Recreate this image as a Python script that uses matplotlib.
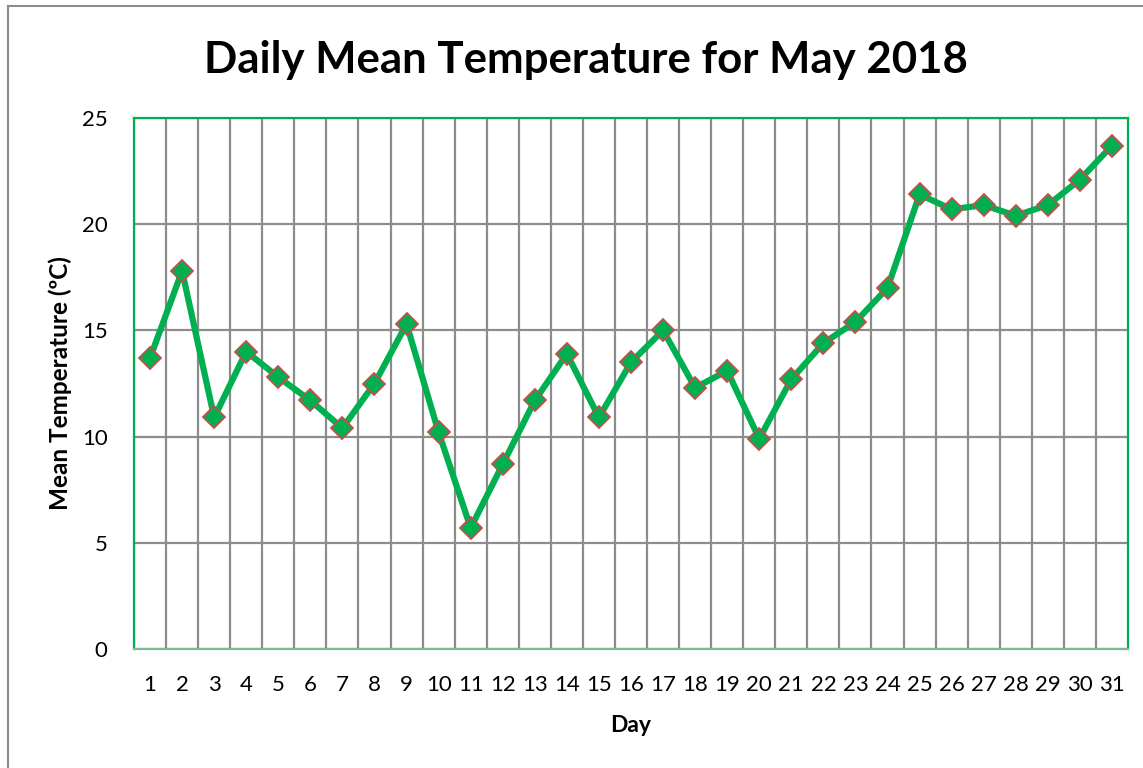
import matplotlib
matplotlib.use("Agg")
import matplotlib.pyplot as plt
from matplotlib.lines import Line2D

days = list(range(1, 32))
temps = [13.7, 17.8, 10.9, 14.0, 12.8, 11.7, 10.4, 12.5, 15.3, 10.2,
         5.7, 8.7, 11.7, 13.9, 10.9, 13.5, 15.0, 12.3, 13.1, 9.9,
         12.7, 14.4, 15.4, 17.0, 21.4, 20.7, 20.9, 20.4, 20.9, 22.1, 23.7]
yticks = [0, 5, 10, 15, 20, 25]

plt.rcParams['font.family'] = ['Lato', 'DejaVu Sans']

fig = plt.figure(figsize=(11.43, 7.68), dpi=100)
ax = fig.add_axes([134/1143, 1-649/768, (1128-134)/1143, (649-118)/768])

green = '#00B050'
red = '#C0504D'
gridc = '#8C8C8C'

ax.plot(days, temps, color=green, lw=4.5, marker='D', markersize=11.5,
        markerfacecolor=green, markeredgecolor=red, markeredgewidth=1.3,
        zorder=5, clip_on=False)

ax.set_xlim(0.5, 31.5)
ax.set_ylim(0, 25)
ax.set_xticks(days)
ax.set_xticklabels([str(d) for d in days])
ax.set_xticks([d + 0.5 for d in range(0, 31)], minor=True)
ax.set_yticks(yticks)
ax.set_yticklabels([str(v) for v in yticks])

ax.grid(True, which='minor', axis='x', color=gridc, lw=1.6)
ax.grid(True, which='major', axis='y', color=gridc, lw=1.6)
ax.grid(False, which='major', axis='x')
ax.set_axisbelow(True)

ax.tick_params(axis='both', which='both', length=0, labelsize=16, colors='black')
ax.tick_params(axis='x', pad=19)
ax.tick_params(axis='y', pad=19)

for side in ['left', 'right', 'top']:
    ax.spines[side].set_color(green)
    ax.spines[side].set_linewidth(1.6)
ax.spines['bottom'].set_color('#7FB88F')
ax.spines['bottom'].set_linewidth(1.6)

ax.set_xlabel('Day', fontsize=16.5, fontweight='bold', labelpad=14)
ax.set_ylabel('Mean Temperature (ºC)', fontsize=17.5, fontweight='bold', labelpad=7)

fig.text(0.513, 1-60/768, 'Daily Mean Temperature for May 2018',
         ha='center', va='center', fontsize=31.5, fontweight='bold')

# outer chart border
fig.add_artist(Line2D([8/1143, 8/1143], [0, 1-6/768], transform=fig.transFigure,
                      color='#8C8C8C', lw=1.5))
fig.add_artist(Line2D([8/1143, 1], [1-6/768, 1-6/768], transform=fig.transFigure,
                      color='#8C8C8C', lw=1.5))

fig.savefig('out.png', dpi=100)
